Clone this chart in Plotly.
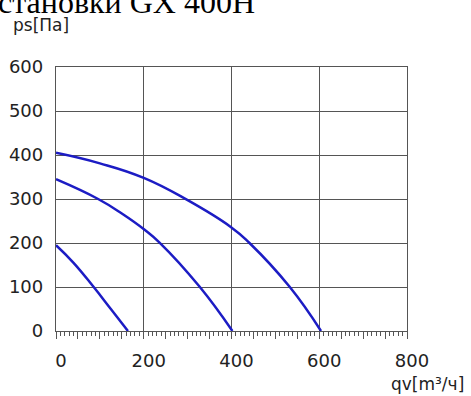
import plotly.graph_objects as go

# Data (qv in m3/h, ps in Pa)
q_low = [0, 40, 85, 125, 164]
p_low = [195, 155, 101, 50, 0]

q_mid = [0, 96, 150, 202, 236, 327, 402]
p_mid = [345, 300, 267, 230, 201, 101, 0]

q_high = [0, 100, 200, 297, 399, 441, 532, 604]
p_high = [405, 381, 348, 299, 236, 200, 101, 0]

x_tickvals = list(range(0, 801, 50))
x_ticktext = [str(v) if v % 200 == 0 else "" for v in x_tickvals]
y_tickvals = [0, 100, 200, 300, 400, 500, 600]

title_text = "становки GX 400H"
y_label = "ps[Па]"
x_label = "qv[m³/ч]"

LINE_COLOR = "#1c1cc4"
GRID = "#555555"
FONT = "DejaVu Sans, Arial, sans-serif"

fig = go.Figure()
for qs, ps in [(q_low, p_low), (q_mid, p_mid), (q_high, p_high)]:
    fig.add_trace(go.Scatter(x=qs, y=ps, mode="lines",
                             line=dict(color=LINE_COLOR, width=2.5, shape="spline", smoothing=1.3),
                             showlegend=False, hoverinfo="skip"))

# invisible trace on the grid axis
fig.add_trace(go.Scatter(x=[0, 800], y=[0, 0], xaxis="x2", mode="lines",
                         line=dict(width=0), showlegend=False, hoverinfo="skip"))

fig.update_layout(
    width=471, height=396,
    margin=dict(l=56, r=64, t=67, b=65, autoexpand=False),
    paper_bgcolor="white", plot_bgcolor="white",
    font=dict(family=FONT, size=18, color="#222222"),
    xaxis=dict(range=[0, 800], tickmode="array", tickvals=x_tickvals, ticktext=x_ticktext,
               ticks="outside", ticklen=7, tickwidth=1, tickcolor=GRID,
               minor=dict(dtick=10, ticks="outside", ticklen=4, tickwidth=1, tickcolor=GRID, showgrid=False),
               showgrid=False, showline=True, linecolor=GRID, linewidth=1.3, mirror=True,
               zeroline=False, ticklabelshift=5, ticklabelstandoff=6, automargin=False,
               tickfont=dict(size=18, color="#222222")),
    xaxis2=dict(range=[0, 800], overlaying="x", dtick=200, showgrid=True, gridcolor=GRID, gridwidth=1.3,
                showticklabels=False, ticks="", showline=False, zeroline=False, automargin=False),
    yaxis=dict(range=[0, 600], tickmode="array", tickvals=y_tickvals, ticks="",
               showgrid=True, gridcolor=GRID, gridwidth=1.3,
               showline=True, linecolor=GRID, linewidth=1.3, mirror=True, zeroline=False,
               ticklabelstandoff=8, automargin=False, tickfont=dict(size=18, color="#222222")),
    annotations=[
        dict(text=title_text, xref="paper", yref="paper", x=-60/351, y=1.17, xanchor="left", yanchor="bottom",
             showarrow=False, font=dict(family="Liberation Serif, Times New Roman, serif", size=32, color="black")),
        dict(text=y_label, xref="paper", yref="paper", x=-45/351, y=(67-25)/264 + 1, xanchor="left", yanchor="middle",
             showarrow=False, font=dict(size=17, color="#222222")),
        dict(text=x_label, xref="paper", yref="paper", x=(466-56)/351, y=-(384-331)/264, xanchor="right", yanchor="middle",
             showarrow=False, font=dict(size=17, color="#222222")),
    ],
)

fig.write_html("out.html")
